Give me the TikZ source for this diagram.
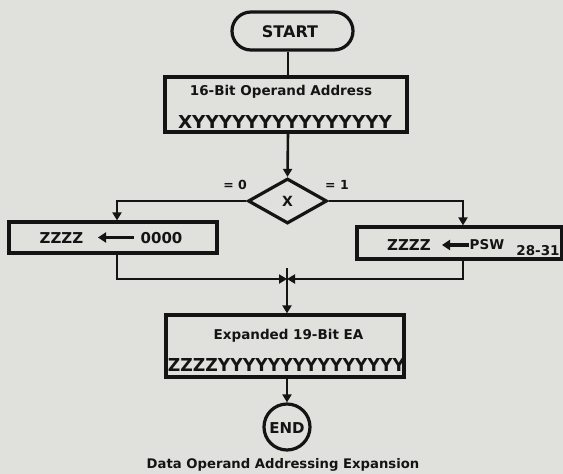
\documentclass[tikz,border=0pt]{standalone}
\usepackage{fontspec}
\usepackage{graphicx}
\setmainfont{DejaVu Sans}
\usetikzlibrary{shapes.geometric,arrows.meta}
\definecolor{paper}{RGB}{224,224,220}
\definecolor{ink}{RGB}{20,20,20}
\begin{document}
\begin{tikzpicture}[x=1pt,y=-1pt,
  frame/.style={draw=ink,line width=3.2pt,inner sep=0pt},
  wire/.style={draw=ink,line width=2.6pt},
  conn/.style={wire,-{Triangle[length=8pt,width=9pt]}},
  ttl/.style={inner sep=0pt,text=ink,font=\bfseries\fontsize{13.5}{15}\selectfont},
  yrow/.style={inner sep=0pt,text=ink},
  btxt/.style={inner sep=0pt,text=ink,font=\bfseries\fontsize{15}{17}\selectfont},
  lbl/.style={inner sep=0pt,text=ink,font=\bfseries\fontsize{12.5}{14}\selectfont},
  txtarrow/.style={draw=ink,line width=3.2pt,{Triangle[length=8pt,width=10pt]}-}
]
\useasboundingbox[fill=paper] (0,0) rectangle (563,474);
\coordinate (ax) at (288,0);

% START
\node[frame,rounded corners=19pt,minimum width=121pt,minimum height=38pt] (start) at (292.5,31) {};
\node[inner sep=0pt,text=ink,font=\bfseries\fontsize{16}{18}\selectfont] (startt) at (290,32) {START};

% Box 1
\node[frame,minimum width=242pt,minimum height=55pt] (b1) at (286,104.5) {};
\node[ttl] (b1t) at (281,92) {16-Bit Operand Address};
\node[yrow] (b1y) at (285,121.5) {\resizebox{214pt}{13pt}{\bfseries XYYYYYYYYYYYYYYY}};

% Decision
\node[draw=ink,line width=3.2pt,diamond,aspect=1.75,minimum width=79pt,minimum height=45pt,inner sep=0pt] (dia) at (287.5,201) {};
\node[inner sep=0pt,text=ink,font=\bfseries\fontsize{14}{16}\selectfont] (diat) at (287.5,201) {X};
\node[lbl,anchor=east] (eq0) at (247,185) {= 0};
\node[lbl,anchor=west] (eq1) at (325,185) {= 1};

% Left box
\node[frame,minimum width=208pt,minimum height=31pt] (lb) at (113,237.5) {};
\node[btxt] (lbz) at (61.5,238.5) {ZZZZ};
\node[btxt] (lbo) at (161.5,238.5) {0000};
\coordinate (lba1) at (98,237.5);
\coordinate (lba2) at (134,237.5);
\draw[txtarrow] (lba1) -- (lba2);

% Right box
\node[frame,minimum width=205pt,minimum height=32pt] (rb) at (459.5,243) {};
\node[btxt] (rbz) at (409,245) {ZZZZ};
\node[inner sep=0pt,text=ink,font=\bfseries\fontsize{13.5}{15}\selectfont] (rbp) at (487,245) {PSW};
\node[inner sep=0pt,text=ink,font=\bfseries\fontsize{13.5}{15}\selectfont] (rbn) at (538,251) {28-31};
\coordinate (rba1) at (442,245);
\coordinate (rba2) at (469,245);
\draw[txtarrow] (rba1) -- (rba2);

% Box 2
\node[frame,minimum width=238pt,minimum height=62pt] (b2) at (285,346) {};
\node[ttl] (b2t) at (288.5,336) {Expanded 19-Bit EA};
\node[yrow] (b2y) at (286.5,365) {\resizebox{237pt}{13pt}{\bfseries ZZZZYYYYYYYYYYYYYYY}};

% END
\node[draw=ink,line width=3.2pt,circle,minimum size=46pt,inner sep=0pt] (end) at (287,427) {};
\node[inner sep=0pt,text=ink,font=\bfseries\fontsize{15}{17}\selectfont] (endt) at (287,428) {END};

% Caption
\node[inner sep=0pt,text=ink,font=\bfseries\fontsize{13.2}{15}\selectfont] (cap) at (283,465) {Data Operand Addressing Expansion};

% Connectors
\draw[wire] (start.south -| ax) -- (b1.north -| ax);
\draw[conn] (b1.south -| ax) -- (dia.north);
\draw[conn] (dia.west) -| ([xshift=4pt]lb.north);
\draw[conn] (dia.east) -| ([xshift=3.5pt]rb.north);
\coordinate (m) at (287,279);
\coordinate (mtop) at (287,268);
\draw[conn] ([xshift=4pt]lb.south) |- (m);
\draw[conn] ([xshift=3.5pt]rb.south) |- (m);
\draw[conn] (mtop) -- (mtop |- b2.north);
\draw[conn] (b2.south -| end) -- (end.north);
\end{tikzpicture}
\end{document}
